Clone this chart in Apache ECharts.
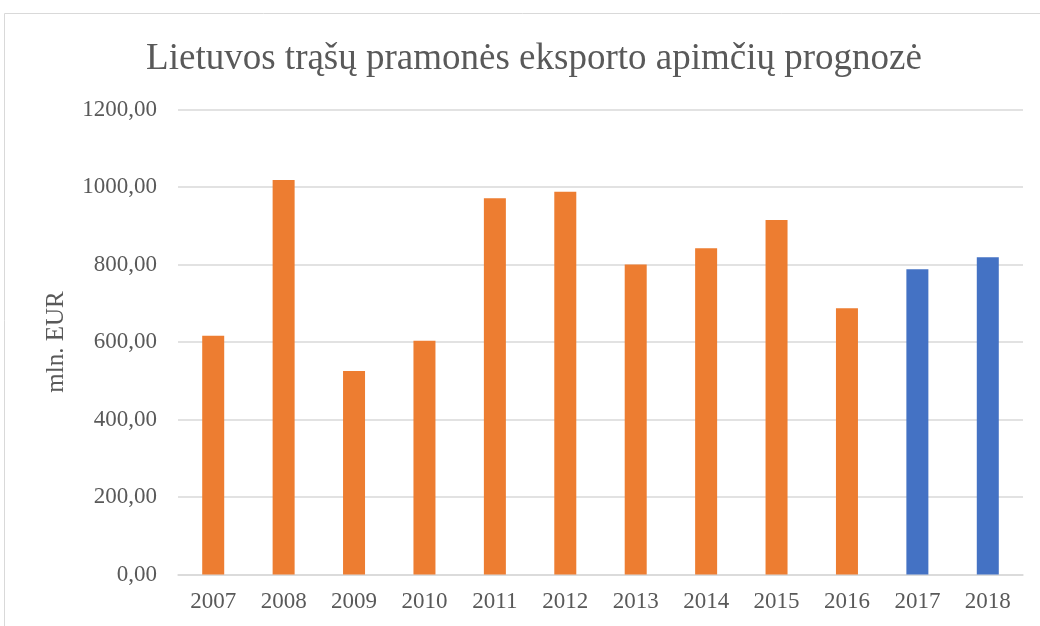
<!DOCTYPE html>
<html>
<head>
<meta charset="utf-8">
<script src="https://cdn.jsdelivr.net/npm/echarts@6/dist/echarts.min.js"></script>
<style>
    html, body { margin: 0; padding: 0; background: #fff; }
    #chart { width: 1040px; height: 626px; }
</style>
</head>
<body>
<div id="chart"></div>
<script>
let years = ['2007','2008','2009','2010','2011','2012','2013','2014','2015','2016','2017','2018'];
// faktiniai duomenys (2007-2016) ir prognozė (2017-2018)
let actual = [616, 1018, 525, 603, 971, 988, 800, 842, 915, 687, '-', '-'];
let forecast = ['-', '-', '-', '-', '-', '-', '-', '-', '-', '-', 788, 819];
let yTicks = [0, 200, 400, 600, 800, 1000, 1200];

let myChart = echarts.init(document.getElementById('chart'));
let font = '"Liberation Serif", "Times New Roman", serif';
let option = {
    animation: false,
    textStyle: { fontFamily: font },
    title: {
        text: 'Lietuvos trąšų pramonės eksporto apimčių prognozė',
        left: 529,
        textAlign: 'center',
        top: 36,
        textStyle: { fontFamily: font, fontSize: 37, fontWeight: 'normal', color: '#595959' }
    },
    graphic: [{
        type: 'rect',
        shape: { x: 4.5, y: 13.5, width: 1040, height: 620 },
        style: { fill: 'none', stroke: '#d9d9d9', lineWidth: 1 },
        silent: true
    }],
    grid: { left: 178, right: 17, top: 109.5, bottom: 51.5 },
    xAxis: {
        type: 'category',
        data: years,
        axisLine: { lineStyle: { color: '#d9d9d9', width: 1.5 } },
        axisTick: { show: false },
        axisLabel: { color: '#595959', fontSize: 23, fontFamily: font, margin: 16 }
    },
    yAxis: {
        type: 'value',
        min: yTicks[0],
        max: yTicks[yTicks.length - 1],
        interval: yTicks[1] - yTicks[0],
        name: 'mln. EUR',
        nameLocation: 'middle',
        nameGap: 109,
        nameTextStyle: { color: '#595959', fontSize: 25, fontFamily: font },
        axisLine: { show: false },
        axisTick: { show: false },
        splitLine: { lineStyle: { color: '#d9d9d9', width: 1.5 } },
        axisLabel: {
            color: '#595959', fontSize: 23, fontFamily: font, margin: 21,
            formatter: function (v) { return v.toFixed(2).replace('.', ','); }
        }
    },
    series: [{
        type: 'bar',
        data: actual,
        barWidth: 22,
        barGap: '-100%',
        itemStyle: { color: '#ED7D31' }
    }, {
        type: 'bar',
        data: forecast,
        barWidth: 22,
        barGap: '-100%',
        itemStyle: { color: '#4472C4' }
    }]
};
myChart.setOption(option);
</script>
</body>
</html>
